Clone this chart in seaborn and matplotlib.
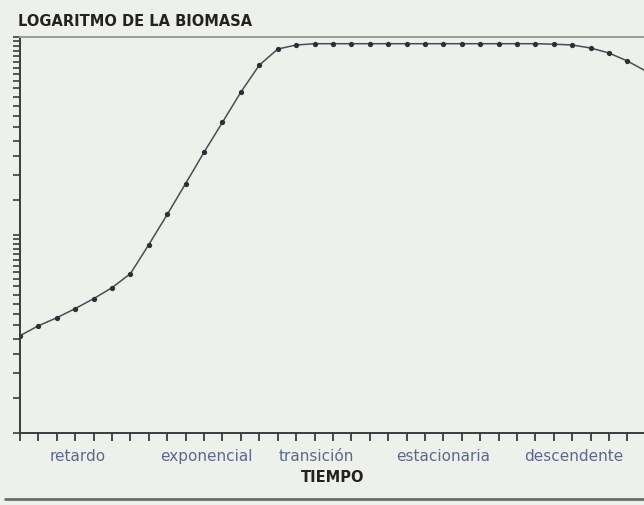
import numpy as np
import pandas as pd
import matplotlib
matplotlib.use("Agg")
import matplotlib.pyplot as plt
import matplotlib.ticker as mticker
import seaborn as sns

# Data (biomass on a log axis, time in equal steps)
tiempo = list(range(35))
biomasa = [3.10, 3.48, 3.82, 4.25, 4.77, 5.42, 6.38, 8.95, 12.7, 18.2,
           26.2, 37.1, 52.7, 72.1, 86.9, 91.1, 92.5, 92.5, 92.5, 92.5,
           92.5, 92.5, 92.5, 92.5, 92.5, 92.5, 92.5, 92.5, 92.5, 92.0,
           91.1, 88.0, 83.0, 75.6, 67.3]
fases = ["retardo", "exponencial", "transición", "estacionaria", "descendente"]
fases_pos = [3.15, 10.1, 16.1, 23.0, 30.1]

sns.set_theme(style="white")
plt.rcParams['font.family'] = ['DejaVu Sans']

bg = "#eef0ec"
fig = plt.figure(figsize=(6.44, 5.05), dpi=100, facecolor=bg)
ax = fig.add_axes([20/644, 1-433/505, 1-20/644, (433-37)/505])
ax.set_facecolor(bg)

df = pd.DataFrame({"t": tiempo, "b": biomasa})
sns.lineplot(data=df, x="t", y="b", ax=ax, color="#4a4d55", linewidth=1.1,
             marker="o", markersize=3.8, markeredgewidth=0, markerfacecolor="#2c2f36")

ax.set_yscale("log")
ax.set_ylim(1, 100)
ax.set_xlim(0, 33.9)

ax.spines["right"].set_visible(False)
for s in ["left", "bottom", "top"]:
    ax.spines[s].set_color("#3a3c40")
    ax.spines[s].set_linewidth(1.4)
ax.spines["top"].set_color("#9a9c98")

ax.xaxis.set_major_locator(mticker.MultipleLocator(1))
ax.xaxis.set_major_formatter(mticker.NullFormatter())
ax.tick_params(axis="x", which="major", direction="out", length=6, width=1.3,
               color="#3a3c40", bottom=True)
ax.yaxis.set_major_locator(mticker.LogLocator(base=10, numticks=5))
ax.yaxis.set_minor_locator(mticker.LogLocator(base=10, subs=np.arange(1, 10, 0.5), numticks=20))
ax.yaxis.set_major_formatter(mticker.NullFormatter())
ax.yaxis.set_minor_formatter(mticker.NullFormatter())
ax.tick_params(axis="y", which="both", direction="out", length=5, width=1.2,
               color="#3a3c40", left=True)
ax.set_xlabel("")
ax.set_ylabel("")

for name, pos in zip(fases, fases_pos):
    ax.text(pos, -0.06, name, transform=ax.get_xaxis_transform(),
            ha="center", va="center", fontsize=11, color="#5a6a8a")

fig.text(333/644, 1-478/505, "TIEMPO", ha="center", va="center",
         fontsize=10.5, color="#222222", fontweight="bold")
fig.text(18/644, 1-21/505, "LOGARITMO DE LA BIOMASA", ha="left", va="center",
         fontsize=10.5, color="#222222", fontweight="bold")

fig.add_artist(plt.Line2D([5/644, 1], [1-499/505, 1-499/505],
                          transform=fig.transFigure, color="#6a6c68", linewidth=2))

fig.savefig("out.png", dpi=100, facecolor=bg)
